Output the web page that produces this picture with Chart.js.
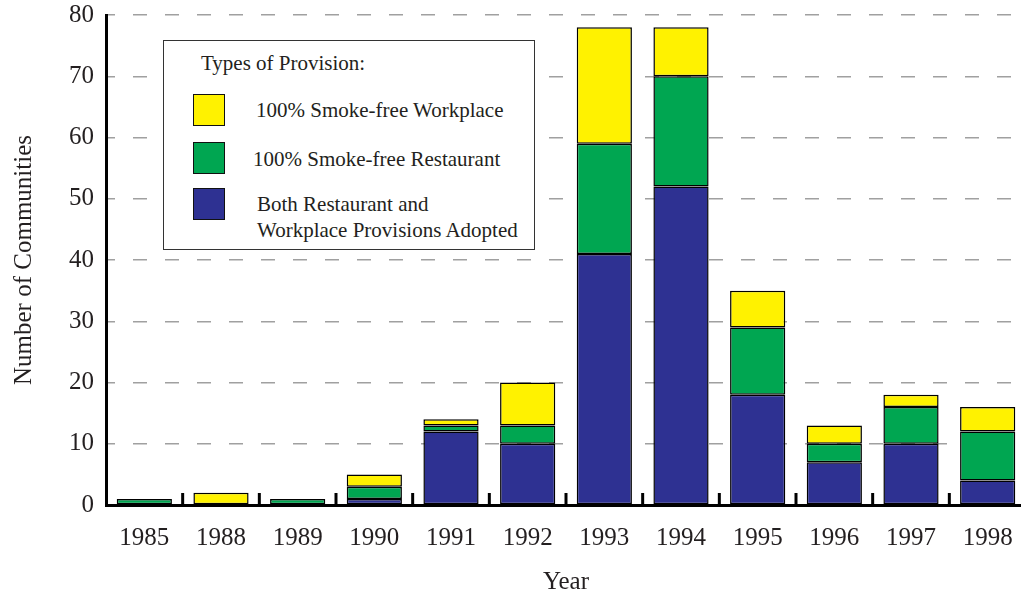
<!DOCTYPE html>
<html>
<head>
<meta charset="utf-8">
<title>Smoke-free provisions by year</title>
<script src="https://cdn.jsdelivr.net/npm/chart.js@4/dist/chart.umd.min.js"></script>
<style>
    html, body { margin: 0; background: #fff; overflow: hidden; }
    #wrap { position: relative; width: 1021px; height: 594px; overflow: hidden; }
    #chart { display: block; }
    #legend {
        position: absolute; left: 163px; top: 40px; width: 372px; height: 210px;
        box-sizing: border-box; border: 1.5px solid #333; background: #fff;
        font-family: 'Liberation Serif', 'Times New Roman', serif; font-size: 21px; color: #231f20;
    }
    #legend .lg-title, #legend .lg-label { position: absolute; white-space: nowrap; line-height: 26px; }
    #legend .lg-swatch { position: absolute; width: 32px; height: 32px; box-sizing: border-box; border: 1.5px solid #111; }
</style>
</head>
<body>
<div id="wrap">
    <!-- a little wider than the window: the original plot runs past the right edge -->
    <canvas id="chart" width="1026" height="594"></canvas>
    <div id="legend"></div>
</div>
<script>
// Data
const years = ['1985', '1988', '1989', '1990', '1991', '1992', '1993', '1994', '1995', '1996', '1997', '1998'];
const bothProvisions = [0, 0, 0, 1, 12, 10, 41, 52, 18, 7, 10, 4];
const restaurantOnly = [1, 0, 1, 2, 1, 3, 18, 18, 11, 3, 6, 8];
const workplaceOnly  = [0, 2, 0, 2, 1, 7, 19, 8, 6, 3, 2, 4];
const yTicks = [0, 10, 20, 30, 40, 50, 60, 70, 80];

const seriesNames = [
    'Both Restaurant and\nWorkplace Provisions Adopted',
    '100% Smoke-free Restaurant',
    '100% Smoke-free Workplace'
];
const seriesColors = ['#2e3192', '#00a651', '#fff200'];
const legendTitle = 'Types of Provision:';

const FONT = "'Liberation Serif', 'Times New Roman', serif";
const TEXT = '#231f20';

// Small black marks between the year groups, sitting on the x axis
const separatorTicks = {
    id: 'separatorTicks',
    afterDatasetsDraw(chart) {
        const x = chart.scales.x;
        const area = chart.chartArea;
        const ctx = chart.ctx;
        ctx.save();
        ctx.strokeStyle = '#000';
        ctx.lineWidth = 3;
        for (let i = 1; i < years.length; i++) {
            const px = (x.getPixelForValue(i - 1) + x.getPixelForValue(i)) / 2;
            ctx.beginPath();
            ctx.moveTo(px, area.bottom);
            ctx.lineTo(px, area.bottom - 12);
            ctx.stroke();
        }
        ctx.restore();
    }
};

const seriesData = [bothProvisions, restaurantOnly, workplaceOnly];

new Chart(document.getElementById('chart'), {
    type: 'bar',
    data: {
        labels: years,
        datasets: seriesData.map((values, i) => ({
            label: seriesNames[i].replace('\n', ' '),
            data: values,
            backgroundColor: seriesColors[i],
            borderColor: '#000',
            borderWidth: 1.5,
            borderSkipped: false,
            barPercentage: 0.72,
            categoryPercentage: 1
        }))
    },
    options: {
        responsive: false,
        animation: false,
        events: [],
        layout: { padding: { top: 15, right: 0, left: 0, bottom: 0 } },
        plugins: {
            legend: { display: false },
            tooltip: { enabled: false }
        },
        scales: {
            x: {
                stacked: true,
                offset: true,
                grid: { display: false },
                border: { color: '#000', width: 3 },
                ticks: { color: TEXT, font: { family: FONT, size: 25 }, padding: 10, maxRotation: 0 },
                title: {
                    display: true, text: 'Year', color: TEXT,
                    font: { family: FONT, size: 25, lineHeight: 0.95 }, padding: { top: 0, bottom: 0 }
                },
                afterFit(scale) { scale.height = 89; }
            },
            y: {
                stacked: true,
                min: yTicks[0],
                max: yTicks[yTicks.length - 1],
                afterBuildTicks(scale) { scale.ticks = yTicks.map(v => ({ value: v })); },
                // invisible tick marks keep the labels off the axis without extra top padding
                grid: { color: '#a0a0a0', lineWidth: 1.5, drawTicks: true, tickLength: 12, tickColor: 'rgba(0,0,0,0)' },
                border: { color: '#000', width: 3, dash: [14, 18], dashOffset: 7 },
                ticks: { color: TEXT, font: { family: FONT, size: 25 }, padding: 0 },
                title: {
                    display: true, text: 'Number of Communities', color: TEXT,
                    font: { family: FONT, size: 25 }, padding: { top: 9, bottom: 0 }
                },
                afterFit(scale) { scale.width = 106; }
            }
        }
    },
    plugins: [separatorTicks]
});

// Boxed legend, workplace on top as in the original
function renderLegend() {
    const box = document.getElementById('legend');
    const rows = [
        { idx: 2, swatchTop: 53, labelLeft: 92, labelTop: 56 },
        { idx: 1, swatchTop: 101, labelLeft: 89, labelTop: 105 },
        { idx: 0, swatchTop: 147, labelLeft: 93, labelTop: 150 }
    ];
    let html = `<div class="lg-title" style="left: 37px; top: 9px;">${legendTitle}</div>`;
    rows.forEach(r => {
        const lines = seriesNames[r.idx].split('\n').join('<br>');
        html += `
            <div class="lg-swatch" style="left: 29px; top: ${r.swatchTop}px; background: ${seriesColors[r.idx]};"></div>
            <div class="lg-label" style="left: ${r.labelLeft}px; top: ${r.labelTop}px;">${lines}</div>`;
    });
    box.innerHTML = html;
}

renderLegend();
</script>
</body>
</html>
